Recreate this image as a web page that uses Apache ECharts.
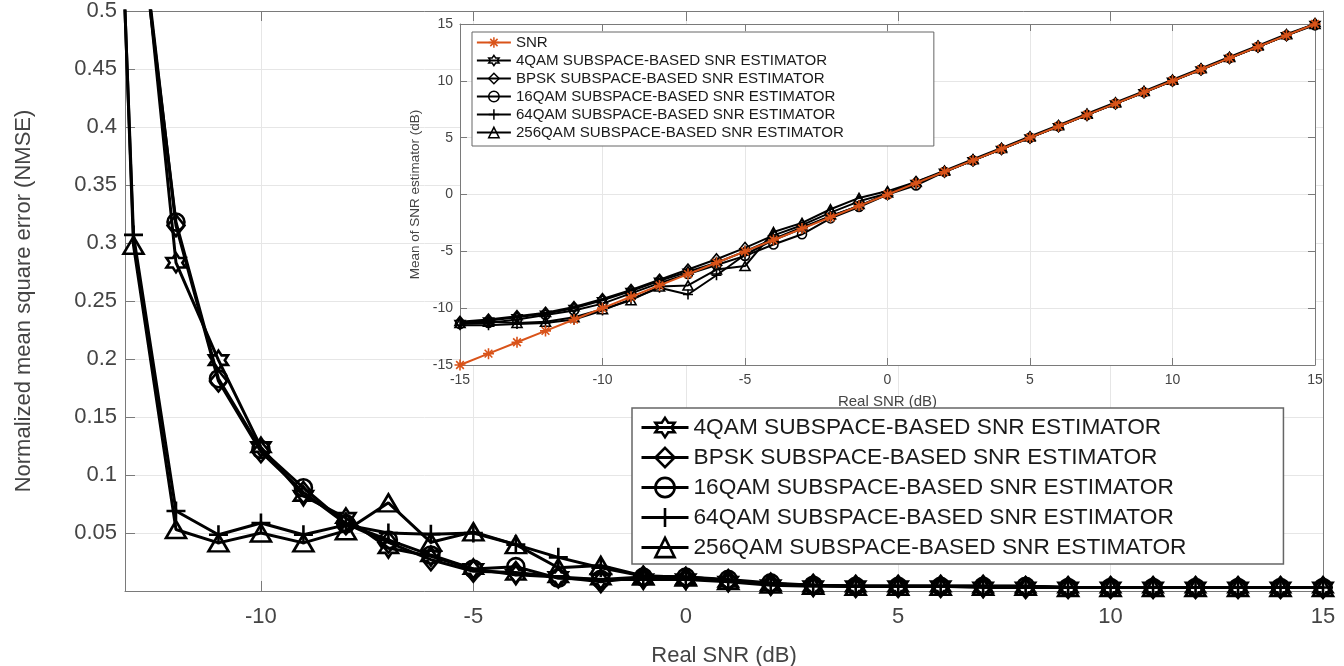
<!DOCTYPE html>
<html><head><meta charset="utf-8">
<script src="https://cdn.jsdelivr.net/npm/echarts@6/dist/echarts.min.js"></script>
<style>html,body{margin:0;padding:0;background:#fff}#c{width:1344px;height:666px}</style>
</head><body><div id="c"></div>
<script>
// ---------- data ----------
const snrDb = [-15,-14,-13,-12,-11,-10,-9,-8,-7,-6,-5,-4,-3,-2,-1,0,1,2,3,4,5,6,7,8,9,10,11,12,13,14,15];
const mainXTicks = [-10,-5,0,5,10,15];
const seriesNames = ['4QAM SUBSPACE-BASED SNR ESTIMATOR','BPSK SUBSPACE-BASED SNR ESTIMATOR','16QAM SUBSPACE-BASED SNR ESTIMATOR','64QAM SUBSPACE-BASED SNR ESTIMATOR','256QAM SUBSPACE-BASED SNR ESTIMATOR'];
const refName = 'SNR';

// NMSE (main plot)
const nmse4qam   = [1.4,1.0,0.645,0.283,0.199,0.124,0.082,0.063,0.037,0.030,0.019,0.014,0.012,0.010,0.010,0.010,0.008,0.005,0.004,0.004,0.004,0.004,0.003,0.003,0.003,0.003,0.003,0.003,0.003,0.003,0.003];
const nmseBpsk   = [1.4,1.0,0.63,0.315,0.181,0.120,0.085,0.058,0.042,0.027,0.017,0.016,0.012,0.008,0.012,0.011,0.009,0.006,0.005,0.004,0.004,0.004,0.004,0.003,0.003,0.003,0.003,0.003,0.003,0.003,0.003];
const nmse16qam  = [1.4,1.0,0.62,0.318,0.183,0.122,0.089,0.058,0.044,0.031,0.019,0.021,0.011,0.010,0.012,0.012,0.010,0.007,0.005,0.004,0.004,0.004,0.004,0.004,0.003,0.003,0.003,0.003,0.003,0.003,0.003];
const nmse64qam  = [1.8,1.27,0.307,0.069,0.0485,0.0586,0.0485,0.057,0.050,0.049,0.050,0.040,0.029,0.020,0.013,0.012,0.009,0.006,0.005,0.004,0.004,0.004,0.004,0.004,0.003,0.003,0.003,0.003,0.003,0.003,0.003];
const nmse256qam = [1.8,1.31,0.298,0.053,0.0415,0.050,0.0415,0.052,0.076,0.042,0.051,0.040,0.020,0.022,0.013,0.012,0.009,0.006,0.005,0.004,0.004,0.004,0.004,0.004,0.003,0.003,0.003,0.003,0.003,0.003,0.003];

// Mean of SNR estimator (inset)
const estRef    = [-15,-14,-13,-12,-11,-10,-9,-8,-7,-6,-5,-4,-3,-2,-1,0,1,2,3,4,5,6,7,8,9,10,11,12,13,14,15];
const est4qam   = [-11.3,-11.1,-10.8,-10.5,-10.0,-9.3,-8.5,-7.6,-6.8,-6.0,-5.0,-3.9,-2.9,-1.9,-1.0,0.0,1.0,2.0,3.0,4.0,5.0,6.0,7.0,8.0,9.0,10.0,11.0,12.0,13.0,14.0,15.0];
const estBpsk   = [-11.2,-11.0,-10.7,-10.4,-9.9,-9.2,-8.4,-7.5,-6.6,-5.7,-4.7,-3.6,-2.7,-1.6,-0.6,0.1,1.1,2.0,3.0,4.0,5.0,6.0,7.0,8.0,9.0,10.0,11.0,12.0,13.0,14.0,15.0];
const est16qam  = [-11.4,-11.3,-11.0,-10.6,-10.2,-9.6,-8.7,-7.8,-7.0,-6.2,-5.4,-4.4,-3.5,-2.1,-1.1,0.0,0.8,2.0,3.0,4.0,5.0,6.0,7.0,8.0,9.0,10.0,11.0,12.0,13.0,14.0,14.9];
const est64qam  = [-11.5,-11.5,-11.4,-11.3,-11.0,-10.2,-9.2,-8.2,-8.8,-7.1,-5.3,-4.0,-3.0,-1.9,-1.0,0.1,1.0,2.0,3.0,4.0,5.0,6.0,7.0,8.0,9.0,10.0,11.0,12.0,13.0,14.0,15.0];
const est256qam = [-11.3,-11.2,-11.3,-11.2,-10.8,-10.1,-9.3,-8.1,-8.0,-6.6,-6.3,-3.3,-2.5,-1.3,-0.3,0.3,1.1,2.1,3.1,4.1,5.1,6.1,7.1,8.1,9.1,10.1,11.1,12.1,13.1,14.1,15.0];

// ---------- styles ----------
const F = "'Liberation Sans', Arial, sans-serif";
const AX = '#7a7a7a', LBL = '#444', GRID = '#e6e6e6';
const HEX = 'path://M0,-10 L2.887,-5 L8.66,-5 L5.774,0 L8.66,5 L2.887,5 L0,10 L-2.887,5 L-8.66,5 L-5.774,0 L-8.66,-5 L-2.887,-5 Z';
const PLUS = 'path://M0,5 L10,5 M5,0 L5,10';
const AST = 'path://M5,0 L5,10 M0,5 L10,5 M1.5,1.5 L8.5,8.5 M8.5,1.5 L1.5,8.5';
const symbols = [HEX, 'diamond', 'circle', PLUS, 'triangle'];
const mainSizes = [19, [17,21], 17, 19, [20,17]];
const insetSizes = [10, [9,11], 9, 10, [10,9]];
const nmseSets = [nmse4qam, nmseBpsk, nmse16qam, nmse64qam, nmse256qam];
const estSets = [est4qam, estBpsk, est16qam, est64qam, est256qam];

const pair = arr => snrDb.map((x, i) => [x, arr[i]]);
const series = [];
nmseSets.forEach((arr, k) => series.push({
  name: seriesNames[k], type: 'line', xAxisIndex: 0, yAxisIndex: 0,
  data: pair(arr), symbol: symbols[k], symbolSize: mainSizes[k], clip: true,
  lineStyle: {color: '#000', width: 3},
  itemStyle: {color: 'rgba(0,0,0,0)', borderColor: '#000', borderWidth: 2.6},
  z: 2, animation: false
}));
estSets.forEach((arr, k) => series.push({
  name: seriesNames[k], type: 'line', xAxisIndex: 2, yAxisIndex: 2,
  data: pair(arr), symbol: symbols[k], symbolSize: insetSizes[k],
  lineStyle: {color: '#000', width: 2},
  itemStyle: {color: 'rgba(0,0,0,0)', borderColor: '#000', borderWidth: 1.6},
  z: 5, animation: false
}));
series.push({
  name: refName, type: 'line', xAxisIndex: 2, yAxisIndex: 2,
  data: pair(estRef), symbol: AST, symbolSize: 11,
  lineStyle: {color: '#D95319', width: 2},
  itemStyle: {color: 'rgba(0,0,0,0)', borderColor: '#D95319', borderWidth: 1.6},
  z: 6, animation: false
});

const tickStyle = {color: AX, width: 1};
const chart = echarts.init(document.getElementById('c'), null, {renderer: 'canvas'});
chart.setOption({
  backgroundColor: '#ffffff',
  animation: false,
  textStyle: {fontFamily: F},
  grid: [
    {left: 125, right: 21, top: 11, bottom: 75, show: false, containLabel: false, outerBoundsMode: 'none'},
    {left: 460, right: 29, top: 24, bottom: 301, show: true, backgroundColor: '#ffffff', borderWidth: 0, z: 3, containLabel: false, outerBoundsMode: 'none'}
  ],
  xAxis: [
    {gridIndex: 0, type: 'value', position: 'bottom', min: -13.2, max: 15, splitNumber: 6,
     axisLine: {show: true, onZero: false, lineStyle: tickStyle},
     axisTick: {show: true, inside: true, length: 10, customValues: mainXTicks, lineStyle: tickStyle},
     axisLabel: {customValues: mainXTicks, fontSize: 22, color: LBL, margin: 15, fontFamily: F},
     splitLine: {show: true, lineStyle: {color: GRID}},
     name: 'Real SNR (dB)', nameLocation: 'middle', nameGap: 54,
     nameTextStyle: {fontSize: 22, color: LBL, fontFamily: F}},
    {gridIndex: 0, type: 'value', position: 'top', min: -13.2, max: 15, splitNumber: 6,
     axisLine: {show: true, onZero: false, lineStyle: tickStyle},
     axisTick: {show: true, inside: true, length: 10, customValues: mainXTicks, lineStyle: tickStyle},
     axisLabel: {show: false}, splitLine: {show: false}},
    {gridIndex: 1, type: 'value', position: 'bottom', min: -15, max: 15, interval: 5, z: 4,
     axisLine: {show: true, onZero: false, lineStyle: tickStyle},
     axisTick: {show: true, inside: true, length: 7, lineStyle: tickStyle},
     axisLabel: {fontSize: 14, color: LBL, margin: 8, fontFamily: F},
     splitLine: {show: true, lineStyle: {color: GRID}},
     name: 'Real SNR (dB)', nameLocation: 'middle', nameGap: 29,
     nameTextStyle: {fontSize: 15, color: LBL, fontFamily: F}},
    {gridIndex: 1, type: 'value', position: 'top', min: -15, max: 15, interval: 5, z: 4,
     axisLine: {show: true, onZero: false, lineStyle: tickStyle},
     axisTick: {show: true, inside: true, length: 7, lineStyle: tickStyle},
     axisLabel: {show: false}, splitLine: {show: false}}
  ],
  yAxis: [
    {gridIndex: 0, type: 'value', position: 'left', min: 0, max: 0.5, interval: 0.05,
     axisLine: {show: true, onZero: false, lineStyle: tickStyle},
     axisTick: {show: true, inside: true, length: 10, lineStyle: tickStyle},
     axisLabel: {showMinLabel: false, fontSize: 22, color: LBL, margin: 8, fontFamily: F, padding: [8, 0, 0, 0]},
     splitLine: {show: true, lineStyle: {color: GRID}},
     name: 'Normalized mean square error (NMSE)', nameLocation: 'middle', nameGap: 90,
     nameTextStyle: {fontSize: 22, color: LBL, fontFamily: F}},
    {gridIndex: 0, type: 'value', position: 'right', min: 0, max: 0.5, interval: 0.05,
     axisLine: {show: true, onZero: false, lineStyle: tickStyle},
     axisTick: {show: false}, axisLabel: {show: false}, splitLine: {show: false}},
    {gridIndex: 1, type: 'value', position: 'left', min: -15, max: 15, interval: 5, z: 4,
     axisLine: {show: true, onZero: false, lineStyle: tickStyle},
     axisTick: {show: true, inside: true, length: 7, lineStyle: tickStyle},
     axisLabel: {fontSize: 14, color: LBL, margin: 7, fontFamily: F},
     splitLine: {show: true, lineStyle: {color: GRID}},
     name: 'Mean of SNR estimator (dB)', nameLocation: 'middle', nameGap: 24,
     nameTextStyle: {fontSize: 13.5, color: LBL, fontFamily: F}},
    {gridIndex: 1, type: 'value', position: 'right', min: -15, max: 15, interval: 5, z: 4,
     axisLine: {show: true, onZero: false, lineStyle: tickStyle},
     axisTick: {show: true, inside: true, length: 7, lineStyle: tickStyle},
     axisLabel: {show: false}, splitLine: {show: false}}
  ],
  legend: [
    {orient: 'vertical', left: 632, top: 408, data: seriesNames,
     itemWidth: 47, itemHeight: 24, itemGap: 7, padding: [8, 97, 5, 8],
     backgroundColor: '#ffffff', borderColor: '#666', borderWidth: 1.5, borderRadius: 0,
     textStyle: {fontSize: 22.7, color: '#1a1a1a', fontFamily: F},
     lineStyle: {width: 3}, itemStyle: {borderWidth: 2.6}, selectedMode: false, z: 6},
    {orient: 'vertical', left: 472, top: 32, data: [refName].concat(seriesNames),
     itemWidth: 34, itemHeight: 13, itemGap: 3, padding: [3, 90, 6, 4],
     backgroundColor: '#ffffff', borderColor: '#666', borderWidth: 1, borderRadius: 0,
     textStyle: {fontSize: 15.1, color: '#1a1a1a', fontFamily: F},
     lineStyle: {width: 1.8}, itemStyle: {borderWidth: 1.5}, selectedMode: false, z: 6}
  ],
  series: series
});
</script></body></html>
